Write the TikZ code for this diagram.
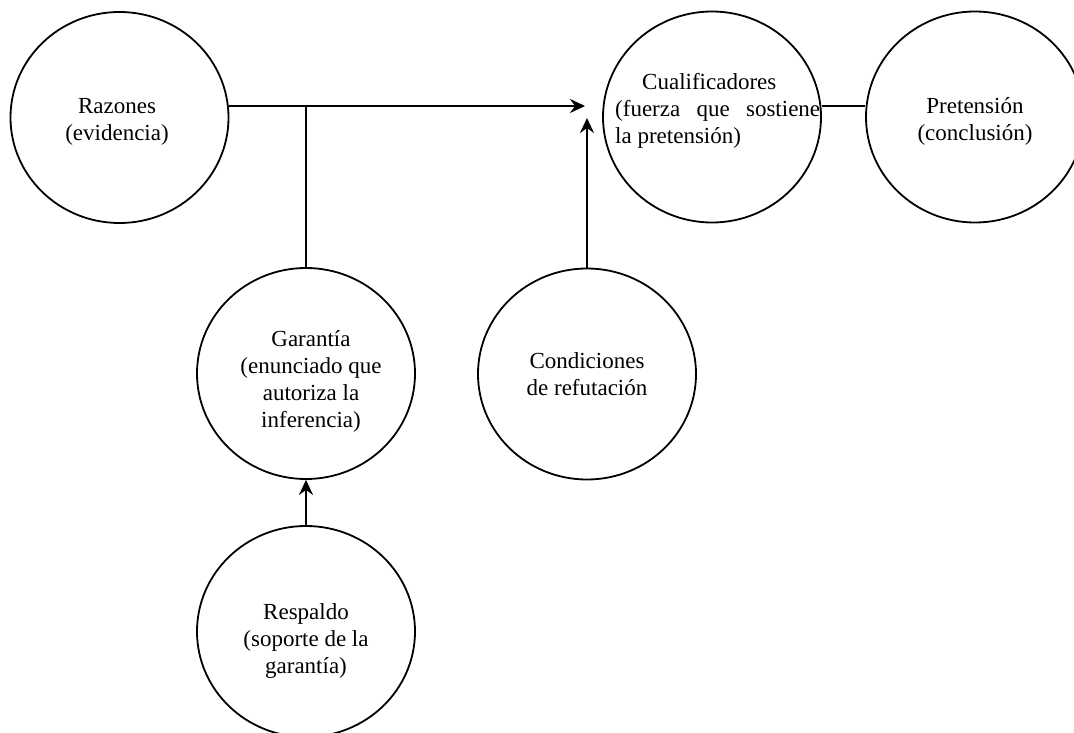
\documentclass[tikz,border=0pt]{standalone}
\usepackage{fontspec}
\setmainfont{Liberation Serif}
\usetikzlibrary{shapes.geometric,arrows.meta}
\begin{document}
\begin{tikzpicture}[x=1pt,y=-1pt,
  oval/.style={ellipse, draw, line width=1.8pt, minimum width=218pt, minimum height=211pt, inner sep=0pt},
  txt/.style={align=center, font=\fontsize{23}{27}\selectfont, inner sep=0pt},
  link/.style={line width=2.4pt},
  arr/.style={link, -{Stealth[length=15pt,width=14pt,inset=5pt]}}]
\useasboundingbox (0,0) rectangle (1074,733);

% Toulmin elements
\node[oval] (raz)  at (119.5,117.5) {};
\node[oval] (cual) at (712,117) {};
\node[oval] (pret) at (975,117) {};
\node[oval] (gar)  at (306,373.5) {};
\node[oval] (cond) at (587,374) {};
\node[oval] (resp) at (306,631.5) {};

% labels
\node[txt] (razt) at (117,122) {Razones\\(evidencia)};
\node[txt, align=left, anchor=west] (cualt) at (615,111)
  {\makebox[205pt][l]{\hspace*{27pt}Cualificadores}\\
   \makebox[205pt][s]{(fuerza que sostiene}\\
   la pretensión)};
\node[txt] (prett) at (975,121) {Pretensión\\(conclusión)};
\node[txt] (gart)  at (311,381) {Garantía\\(enunciado que\\autoriza la\\inferencia)};
\node[txt] (condt) at (587,374) {Condiciones\\de refutación};
\node[txt] (respt) at (306,641) {Respaldo\\(soporte de la\\garantía)};

% connectors
\coordinate (join) at (585,106);
\coordinate (qtip) at (587,118);
\draw[arr] ([yshift=11.5pt]raz.east) -- (join);
\draw[link] (gar.north) -- (gar.north |- join);
\draw[arr] (cond.north) -- (cond.north |- qtip);
\draw[link] ([yshift=11pt]cual.east) -- ([yshift=11pt]pret.west);
\draw[arr] (resp.north) -- (gar.south);
\end{tikzpicture}
\end{document}
